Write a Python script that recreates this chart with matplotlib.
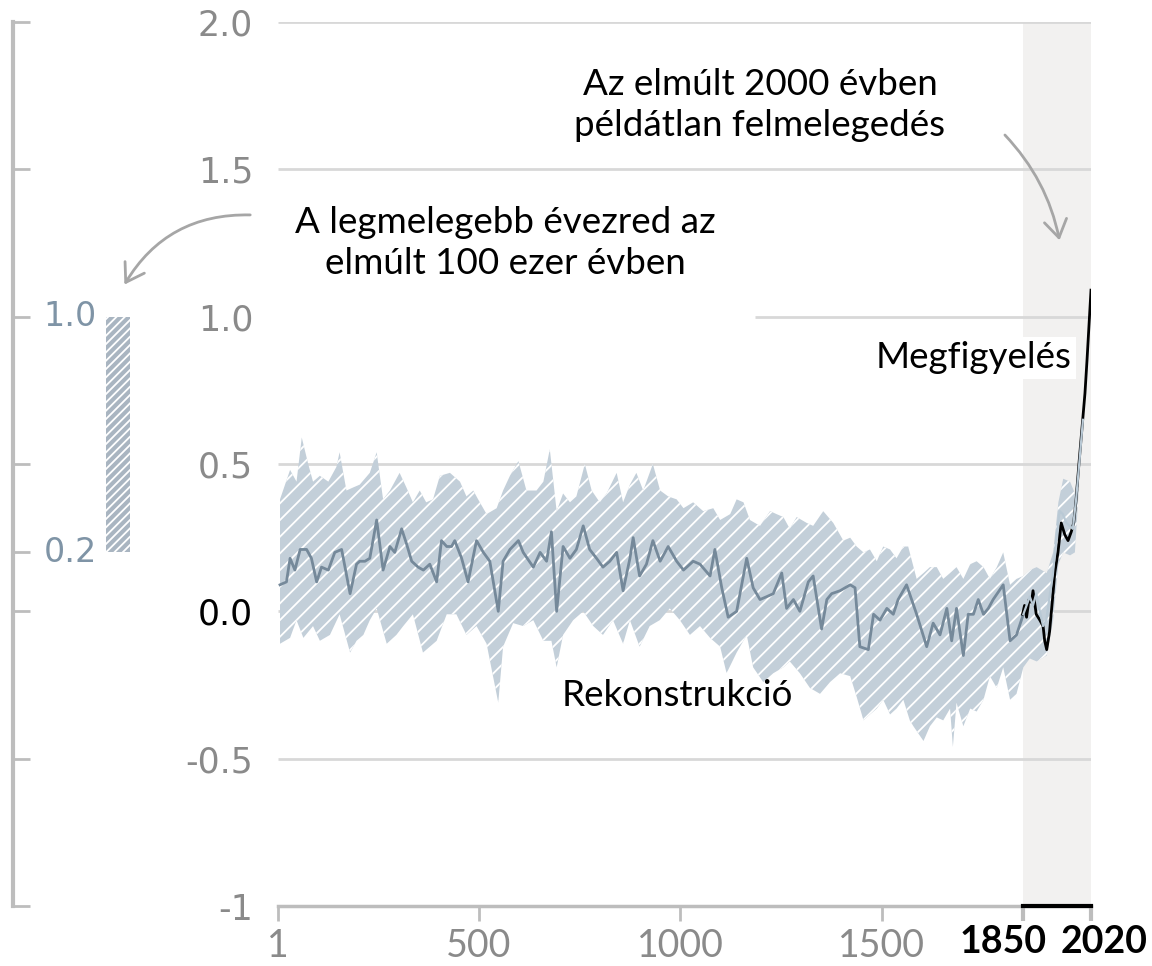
import matplotlib
matplotlib.use("Agg")
import matplotlib.pyplot as plt
import numpy as np
from matplotlib.patches import FancyArrowPatch

plt.rcParams['hatch.linewidth'] = 1.3

# --- adatok (leolvasva az ábráról) ---
# rekonstrukció, középérték
rec_years = [6, 22, 31, 43, 56, 72, 84, 97, 109, 126, 142, 159, 180, 196, 204, 217, 229, 246, 262, 279,
             291, 308, 320, 333, 349, 362, 378, 395, 407, 420, 432, 440, 457, 473, 494, 511, 527, 548, 560, 577,
             598, 610, 635, 652, 668, 680, 693, 709, 726, 742, 759, 775, 792, 808, 825, 842, 858, 875, 883, 899,
             916, 932, 950, 970, 991, 1008, 1032, 1049, 1074, 1086, 1103, 1119, 1140, 1165, 1181, 1198, 1215, 1231, 1252, 1264,
             1281, 1297, 1318, 1330, 1351, 1364, 1376, 1397, 1422, 1434, 1446, 1467, 1480, 1496, 1513, 1529, 1541, 1562, 1587, 1612,
             1628, 1645, 1662, 1674, 1686, 1703, 1715, 1728, 1740, 1753, 1765, 1777, 1802, 1819, 1835, 1852]
rec_mean = [0.09, 0.10, 0.18, 0.14, 0.21, 0.21, 0.18, 0.10, 0.15, 0.14, 0.20, 0.21, 0.06, 0.16, 0.17, 0.17, 0.18, 0.31, 0.14, 0.22,
            0.20, 0.28, 0.23, 0.17, 0.15, 0.14, 0.16, 0.10, 0.24, 0.22, 0.22, 0.24, 0.18, 0.10, 0.24, 0.20, 0.17, 0.00, 0.17, 0.21,
            0.24, 0.20, 0.15, 0.20, 0.17, 0.27, 0.00, 0.22, 0.18, 0.21, 0.29, 0.21, 0.18, 0.15, 0.17, 0.20, 0.07, 0.18, 0.25, 0.12,
            0.16, 0.24, 0.17, 0.22, 0.17, 0.14, 0.17, 0.16, 0.12, 0.21, 0.08, -0.02, 0.00, 0.18, 0.08, 0.04, 0.05, 0.06, 0.13, 0.01,
            0.04, 0.00, 0.10, 0.12, -0.06, 0.04, 0.06, 0.07, 0.09, 0.08, -0.12, -0.13, -0.01, -0.03, 0.01, -0.01, 0.04, 0.09, -0.01, -0.12,
            -0.04, -0.08, 0.01, -0.10, 0.01, -0.15, -0.01, -0.01, 0.04, -0.01, 0.01, 0.04, 0.09, -0.10, -0.08, -0.01]

# rekonstrukció 1850 után
rec2_years = [1852, 1868, 1876, 1884, 1893, 1901, 1909, 1917, 1925, 1934, 1942, 1950, 1959, 1967, 1975, 1983, 1992, 2000]
rec2_mean = [-0.01, 0.05, 0.02, 0.06, 0.00, -0.05, -0.03, 0.05, 0.12, 0.25, 0.34, 0.33, 0.30, 0.29, 0.28, 0.38, 0.52, 0.65]

# bizonytalansági sáv felső széle
up_years = [6, 31, 47, 60, 76, 88, 105, 126, 146, 154, 171, 187, 204, 229, 246, 262, 279, 303, 320, 336,
            353, 369, 386, 403, 428, 453, 469, 486, 498, 519, 544, 560, 577, 598, 618, 643, 660, 676, 693, 709,
            726, 742, 763, 780, 800, 817, 842, 858, 875, 891, 908, 932, 950, 970, 991, 1008, 1032, 1057, 1082, 1099,
            1124, 1140, 1157, 1173, 1198, 1223, 1239, 1256, 1272, 1289, 1314, 1330, 1355, 1380, 1405, 1422, 1438, 1455, 1471, 1488,
            1504, 1521, 1537, 1554, 1566, 1587, 1604, 1620, 1637, 1653, 1670, 1686, 1703, 1720, 1736, 1753, 1769, 1786, 1802, 1819,
            1835, 1852, 1868, 1885, 1910, 1926, 1939, 1951, 1968, 1980, 1990]
upper = [0.38, 0.48, 0.44, 0.59, 0.50, 0.44, 0.46, 0.44, 0.49, 0.54, 0.41, 0.42, 0.43, 0.47, 0.54, 0.38, 0.41, 0.47, 0.42, 0.37,
         0.41, 0.37, 0.38, 0.46, 0.47, 0.44, 0.39, 0.41, 0.38, 0.33, 0.35, 0.41, 0.46, 0.51, 0.41, 0.41, 0.44, 0.55, 0.34, 0.40,
         0.37, 0.39, 0.50, 0.41, 0.37, 0.40, 0.47, 0.37, 0.43, 0.47, 0.41, 0.50, 0.41, 0.39, 0.38, 0.35, 0.37, 0.34, 0.35, 0.31,
         0.33, 0.38, 0.37, 0.31, 0.29, 0.34, 0.33, 0.32, 0.28, 0.32, 0.30, 0.29, 0.34, 0.30, 0.24, 0.25, 0.22, 0.20, 0.21, 0.17,
         0.22, 0.21, 0.18, 0.22, 0.22, 0.11, 0.13, 0.15, 0.15, 0.11, 0.13, 0.15, 0.11, 0.16, 0.17, 0.15, 0.11, 0.15, 0.20, 0.09,
         0.11, 0.12, 0.14, 0.15, 0.13, 0.20, 0.37, 0.45, 0.44, 0.40, 0.52]

# bizonytalansági sáv alsó széle
lo_years = [6, 31, 47, 64, 88, 105, 130, 154, 180, 196, 213, 229, 246, 271, 295, 312, 336, 361, 378, 395,
            420, 444, 469, 494, 519, 548, 560, 585, 610, 635, 660, 680, 693, 709, 734, 759, 784, 808, 833, 858,
            875, 899, 924, 949, 974, 999, 1024, 1049, 1074, 1099, 1115, 1140, 1165, 1181, 1206, 1231, 1256, 1272, 1297, 1322,
            1347, 1372, 1397, 1422, 1438, 1455, 1471, 1488, 1504, 1521, 1537, 1554, 1570, 1579, 1604, 1620, 1637, 1653, 1670, 1677,
            1686, 1703, 1720, 1736, 1753, 1769, 1786, 1802, 1819, 1835, 1852, 1868, 1885, 1910, 1926, 1939, 1951, 1968, 1980, 1990]
lower = [-0.11, -0.09, -0.03, -0.09, -0.05, -0.10, -0.08, -0.01, -0.14, -0.10, -0.08, -0.03, 0.01, -0.11, -0.08, -0.05, -0.01, -0.14, -0.12, -0.10,
         -0.01, -0.01, -0.08, -0.05, -0.11, -0.31, -0.12, -0.04, -0.05, -0.03, -0.10, -0.10, -0.19, -0.08, -0.03, 0.00, -0.05, -0.08, -0.03, -0.11,
         -0.03, -0.12, -0.05, -0.03, 0.01, -0.03, -0.08, -0.05, -0.09, -0.12, -0.21, -0.14, -0.08, -0.19, -0.24, -0.21, -0.19, -0.17, -0.21, -0.26,
         -0.28, -0.24, -0.21, -0.22, -0.29, -0.37, -0.35, -0.33, -0.30, -0.35, -0.33, -0.30, -0.37, -0.39, -0.44, -0.39, -0.36, -0.37, -0.33, -0.46,
         -0.31, -0.39, -0.33, -0.34, -0.30, -0.22, -0.26, -0.19, -0.30, -0.28, -0.19, -0.16, -0.17, -0.15, -0.03, 0.16, 0.20, 0.19, 0.20, 0.42]

# megfigyelés
obs_years = [1850, 1855, 1860, 1866, 1872, 1876, 1884, 1893, 1901, 1905, 1910, 1917, 1925, 1930, 1938, 1946,
             1955, 1963, 1971, 1977, 1983, 1990, 2000, 2005, 2010, 2015, 2020]
obs = [-0.01, 0.02, -0.02, 0.04, 0.03, 0.07, -0.01, -0.03, -0.05, -0.10, -0.13, -0.07, 0.05, 0.13, 0.20, 0.30,
       0.26, 0.24, 0.27, 0.30, 0.38, 0.50, 0.66, 0.74, 0.85, 0.97, 1.09]

# legmelegebb évezred (100 ezer év) tartománya
warm_range = [0.2, 1.0]

yticks = [-1, -0.5, 0.0, 0.5, 1.0, 1.5, 2.0]
ytick_labels = ['-1', '-0.5', '0.0', '0.5', '1.0', '1.5', '2.0']
xticks = [1, 500, 1000, 1500, 1850, 2020]
xtick_labels = ['1', '500', '1000', '1500', '1850', '2020']
left_ticks = [-1, -0.5, 0.0, 0.2, 0.5, 1.0, 1.5, 2.0]

W, H = 1152, 966
band_col = '#c3cfd9'
line_col = '#75899a'
grey_txt = '#8a8a8a'
grid_col = '#d8d8d8'

fig = plt.figure(figsize=(W / 100, H / 100), dpi=100)

# fő tengely
ax = fig.add_axes([278 / W, 1 - 906 / H, (1091 - 278) / W, (906 - 22) / H])
ax.set_xlim(1, 2020)
ax.set_ylim(-1, 2)
ax.axvspan(1850, 2020, color='#f2f1f0', lw=0, zorder=0)
ax.hlines([2.0, 1.5, 0.5, 0.0, -0.5], 1, 2020, color=grid_col, lw=2, zorder=1)
ax.hlines(1.0, 1185, 2020, color=grid_col, lw=2, zorder=1)

band_x = np.concatenate([up_years, lo_years[::-1]])
band_y = np.concatenate([upper, lower[::-1]])
ax.fill(band_x, band_y, facecolor=band_col, edgecolor='white', hatch='//', lw=0, zorder=2)
ax.plot(rec_years, rec_mean, color=line_col, lw=2, zorder=3)
ax.plot(obs_years, obs, color='black', lw=2, zorder=4)
ax.plot(rec2_years, rec2_mean, color='#b9c9d5', lw=1.6, zorder=5)

for s in ['top', 'right', 'left']:
    ax.spines[s].set_visible(False)
ax.spines['bottom'].set_color('#bdbdbd')
ax.spines['bottom'].set_linewidth(2.5)
ax.plot([1850, 2020], [-1, -1], color='black', lw=3, clip_on=False, zorder=6)

ax.set_yticks(yticks)
ax.set_yticklabels(ytick_labels, fontsize=25, color=grey_txt, family='DejaVu Sans')
ax.tick_params(axis='y', length=0, pad=18)
ax.get_yticklabels()[2].set_color('black')

# 1850 és 2020 felirata külön, hogy ne fedjék egymást
ax.set_xticks(xticks)
ax.set_xticklabels(xtick_labels[:4] + ['', ''], fontsize=27, color=grey_txt, family='Lato')
ax.tick_params(axis='x', direction='out', length=11, width=2, color='#bdbdbd', pad=5)
for t in ax.xaxis.get_major_ticks()[4:]:
    t.tick1line.set_color('black')
    t.tick1line.set_markeredgewidth(3)

# bal oldali tengely
axl = fig.add_axes([13 / W, 1 - 906 / H, 127 / W, (906 - 22) / H])
axl.set_ylim(-1, 2)
axl.set_xlim(0, 127)
for s in ['top', 'right', 'bottom']:
    axl.spines[s].set_visible(False)
axl.spines['left'].set_color('#bdbdbd')
axl.spines['left'].set_linewidth(3)
axl.set_xticks([])
axl.set_yticks(left_ticks)
axl.set_yticklabels([])
axl.tick_params(axis='y', direction='in', length=12, width=2, color='#bdbdbd')
axl.set_facecolor('none')
axl.bar(105, warm_range[1] - warm_range[0], bottom=warm_range[0], width=24,
        facecolor='#a9b5c1', edgecolor='white', hatch='////', lw=0)
for v in warm_range:
    axl.text(84, v, f'{v:.1f}', ha='right', va='center', fontsize=24,
             color='#7f94a6', family='DejaVu Sans')

# feliratok, nyilak
ov = fig.add_axes([0, 0, 1, 1])
ov.set_xlim(0, W)
ov.set_ylim(H, 0)
ov.axis('off')
txt = dict(family='Lato', fontsize=26.5, color='black', ha='center', va='center')
ov.text(760, 105, 'Az elmúlt 2000 évben\npéldátlan felmelegedés', linespacing=1.3, **txt)
ov.text(505, 243, 'A legmelegebb évezred az\nelmúlt 100 ezer évben', linespacing=1.3, **txt)
ov.text(974, 358, 'Megfigyelés', bbox=dict(facecolor='white', edgecolor='none', pad=3), **txt)
ov.text(677, 695, 'Rekonstrukció', **txt)
ov.text(1003, 942, xtick_labels[4], family='Lato', fontsize=27, fontweight='bold',
        color='black', ha='center', va='center')
ov.text(1104, 942, xtick_labels[5], family='Lato', fontsize=27, fontweight='bold',
        color='black', ha='center', va='center')

for p0, p1, rad in [((253, 215), (123, 287), 0.3), ((1003, 133), (1060, 243), -0.15)]:
    ov.add_patch(FancyArrowPatch(p0, p1, connectionstyle=f'arc3,rad={rad}',
                                 arrowstyle='->,head_length=0.7,head_width=0.45',
                                 mutation_scale=18, color='#a6a6a6', lw=2))

fig.savefig('out.png', dpi=100)
